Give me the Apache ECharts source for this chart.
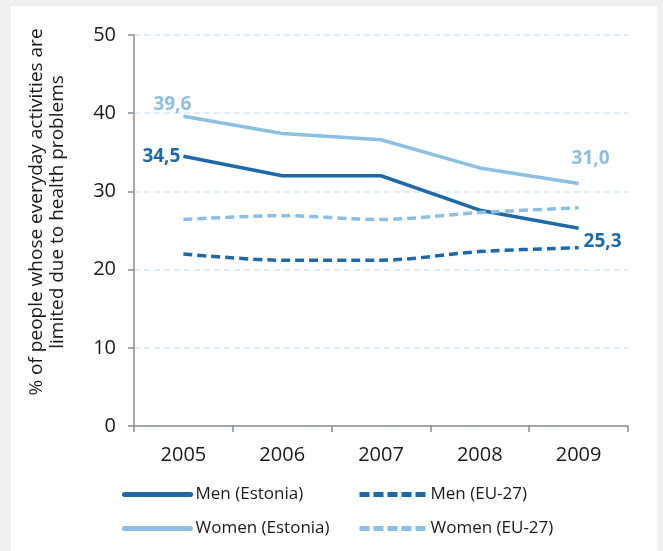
<!DOCTYPE html>
<html>
<head>
<meta charset="utf-8">
<script src="https://cdn.jsdelivr.net/npm/echarts@6/dist/echarts.min.js"></script>
<style>
  html, body { margin: 0; padding: 0; background: #efefef; }
  #chart { position: absolute; left: 11px; top: 6px; width: 646px; height: 545px; background: #fff; }
</style>
</head>
<body>
<div id="chart"></div>
<script>
// years on the x axis
var years = ['2005', '2006', '2007', '2008', '2009'];
// values
var menEstonia = [34.5, 32.0, 32.0, 27.6, 25.3];
var womenEstonia = [39.6, 37.4, 36.6, 33.0, 31.0];
var menEU = [22.0, 21.2, 21.2, 22.3, 22.8];
var womenEU = [26.4, 26.9, 26.4, 27.3, 27.9];

var dark = '#1f6aa6';
var light = '#8dbfe3';
var font = 'Open Sans';
var txt = '#1a1a1a';
var clear = 'rgba(0,0,0,0)';

function fmt(v) { return v.toFixed(1).replace('.', ','); }

// only the first and last points get a label
function withLabels(arr, color, first, last) {
  return arr.map(function (v, i) {
    var lab = i === 0 ? first : (i === arr.length - 1 ? last : null);
    if (!lab) return { value: v };
    return {
      value: v,
      label: Object.assign({
        show: true, formatter: fmt(v), color: color,
        fontFamily: font, fontWeight: 'bold', fontSize: 19
      }, lab)
    };
  });
}

var legendBase = {
  orient: 'vertical', top: 475,
  itemWidth: 66, itemHeight: 14, itemGap: 17,
  itemStyle: { color: clear, borderWidth: 0 },
  lineStyle: { width: 5, cap: 'round' },
  textStyle: { fontFamily: font, fontSize: 17, color: txt }
};
var dashedItem = { cap: 'butt', type: [10, 4] };

var myChart = echarts.init(document.getElementById('chart'));
var option = {
  animation: false,
  grid: { left: 123, top: 29, right: 29, bottom: 125 },
  graphic: [{
    type: 'text',
    x: 36, y: 206,
    rotation: Math.PI / 2,
    style: {
      text: '% of people whose everyday activities are\nlimited due to health problems',
      fill: txt, font: '19px "Open Sans"', align: 'center', verticalAlign: 'middle', lineHeight: 21
    }
  }],
  legend: [
    Object.assign({ data: ['Men (Estonia)', 'Women (Estonia)'], left: 106 }, legendBase),
    Object.assign({ data: [
      { name: 'Men (EU-27)', lineStyle: dashedItem },
      { name: 'Women (EU-27)', lineStyle: dashedItem }
    ], left: 341 }, legendBase)
  ],
  xAxis: {
    type: 'category',
    data: years,
    boundaryGap: true,
    axisLine: { lineStyle: { color: '#8c8c8c', width: 1.5 } },
    axisTick: { show: true, length: 6, lineStyle: { color: '#8c8c8c', width: 1.5 } },
    axisLabel: { color: txt, fontFamily: font, fontSize: 20, margin: 19 }
  },
  yAxis: {
    type: 'value',
    min: 0, max: 50, interval: 10,
    axisLine: { show: true, lineStyle: { color: '#8c8c8c', width: 1.5 } },
    axisTick: { show: true, length: 6, lineStyle: { color: '#8c8c8c', width: 1.5 } },
    axisLabel: { color: txt, fontFamily: font, fontSize: 20, margin: 18 },
    splitLine: { lineStyle: { color: '#d3e8f5', type: [6, 4], width: 1.5 } }
  },
  series: [{
    name: 'Men (Estonia)', type: 'line', symbol: 'circle', symbolSize: 0, showSymbol: true,
    lineStyle: { color: dark, width: 3.5 }, itemStyle: { color: clear, borderWidth: 0 },
    data: withLabels(menEstonia, dark, { position: 'left', distance: 3 }, { position: 'right', distance: 5, offset: [0, 13] })
  }, {
    name: 'Women (Estonia)', type: 'line', symbol: 'circle', symbolSize: 0, showSymbol: true,
    lineStyle: { color: light, width: 3.5 }, itemStyle: { color: clear, borderWidth: 0 },
    data: withLabels(womenEstonia, light, { position: 'top', distance: 2, offset: [-11, 0] }, { position: 'top', distance: 15, offset: [12, 0] })
  }, {
    name: 'Men (EU-27)', type: 'line', symbol: 'none', smooth: 0.3,
    lineStyle: { color: dark, width: 3.5, type: [9, 5] }, itemStyle: { color: clear },
    data: menEU
  }, {
    name: 'Women (EU-27)', type: 'line', symbol: 'none', smooth: 0.3,
    lineStyle: { color: light, width: 3.5, type: [9, 5] }, itemStyle: { color: clear },
    data: womenEU
  }]
};
myChart.setOption(option);
</script>
</body>
</html>
